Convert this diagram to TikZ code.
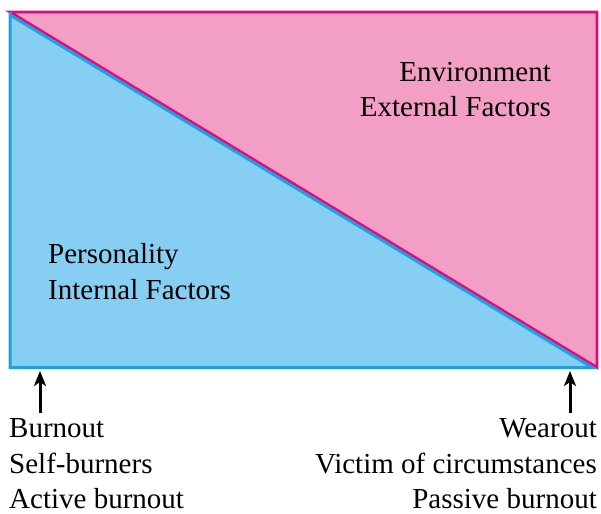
\documentclass[tikz,border=0pt]{standalone}
\usepackage{fontspec}
\setmainfont{Liberation Serif}
\usetikzlibrary{arrows.meta}
\definecolor{bluefill}{HTML}{86CFF3}
\definecolor{bluestroke}{HTML}{1AA3E0}
\definecolor{pinkfill}{HTML}{F39EC4}
\definecolor{pinkstroke}{HTML}{E5087E}
\tikzset{
  lbl/.style={font=\fontsize{29}{36}\selectfont, inner sep=0pt, anchor=base west},
  lblr/.style={font=\fontsize{29}{36}\selectfont, inner sep=0pt, anchor=base east},
  arr/.style={-{Stealth[length=15pt,width=12pt,inset=4pt]}, line width=3pt, black}
}
\begin{document}
\begin{tikzpicture}[x=1pt,y=-1pt]
\useasboundingbox (0,0) rectangle (601,513);
\path[fill=pinkfill, draw=pinkstroke, line width=2.8pt, line join=miter] (10,12) -- (597,12) -- (597,367.5) -- cycle;
\path[fill=bluefill, draw=bluestroke, line width=3pt, line join=miter] (10,14.9) -- (10,367.5) -- (592.2,367.5) -- cycle;
\draw[bluestroke, line width=3pt] (10,12) -- (10,15);
\node[lblr] (env1) at (551,82) {Environment};
\node[lblr] (env2) at (551,117) {External Factors};
\node[lbl] (pers1) at (48,263) {Personality};
\node[lbl] (pers2) at (48,299) {Internal Factors};
\coordinate (lb) at (40,413);
\coordinate (lt) at (40,371);
\coordinate (rb) at (570,413);
\coordinate (rt) at (570,371);
\draw[arr] (lb) -- (lt);
\draw[arr] (rb) -- (rt);
\node[lbl] (l1) at (9,437) {Burnout};
\node[lbl] (l2) at (9,473) {Self-burners};
\node[lbl] (l3) at (9,508) {Active burnout};
\node[lblr] (r1) at (597,437) {Wearout};
\node[lblr] (r2) at (597,473) {Victim of circumstances};
\node[lblr] (r3) at (597,508) {Passive burnout};
\end{tikzpicture}
\end{document}
